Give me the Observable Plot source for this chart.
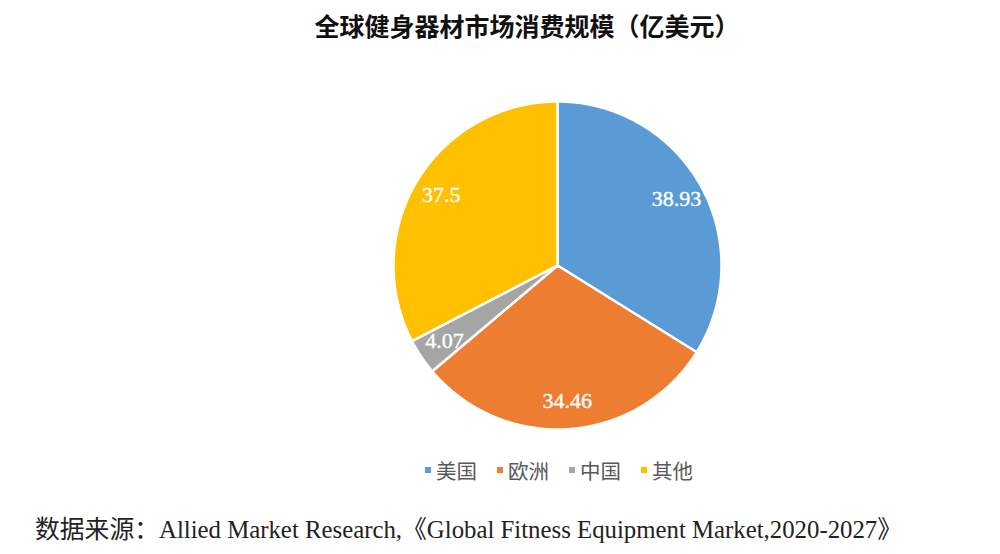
<!DOCTYPE html>
<html>
<head>
<meta charset="utf-8">
<script src="https://cdn.jsdelivr.net/npm/d3@7"></script>
<script src="https://cdn.jsdelivr.net/npm/@observablehq/plot@0.6"></script>
<style>
  html, body { margin: 0; padding: 0; background: #fff; }
  #wrap { position: relative; width: 1000px; height: 554px; overflow: hidden; }
  #title { position: absolute; left: 0; width: 1054px; top: 8px; text-align: center;
    font-family: "Noto Sans CJK SC", sans-serif; font-weight: 600; font-size: 25px; color: #111; line-height: 34px; }
  #chart { position: absolute; left: 0; top: 50px; }
  #legend { position: absolute; left: 0; width: 1118px; top: 456px; display: flex; justify-content: center; gap: 0;
    font-family: "Noto Sans CJK SC", sans-serif; font-size: 20.5px; color: #595959; line-height: 28px; }
  #legend .item { display: flex; align-items: center; margin: 0 10px; }
  #legend .sw { width: 6px; height: 6px; margin-right: 5px; }
  #caption { position: absolute; left: 35px; top: 513px; white-space: nowrap;
    font-family: "Liberation Serif", "Noto Sans CJK SC", serif; font-size: 24.8px; color: #222; line-height: 34px; }
</style>
</head>
<body>
<div id="wrap">
  <div id="title"></div>
  <div id="chart"></div>
  <div id="legend"></div>
  <div id="caption"></div>
</div>
<script>
const titleText = "全球健身器材市场消费规模（亿美元）";
const categories = ["美国", "欧洲", "中国", "其他"];
const values = [38.93, 34.46, 4.07, 37.5];
const labels = ["38.93", "34.46", "4.07", "37.5"];
const colors = ["#5B9BD5", "#ED7D31", "#A5A5A5", "#FFC000"];
const captionText = "数据来源：Allied Market Research,《Global Fitness Equipment Market,2020-2027》";

document.getElementById("title").textContent = titleText;
document.getElementById("caption").textContent = captionText;

const pie = d3.pie().sort(null).value(d => d.value)(categories.map((name, i) => ({name, value: values[i], label: labels[i]})));

// Build slice outlines (angles from 12 o'clock, clockwise)
const outline = [];
for (const a of pie) {
  const name = a.data.name;
  outline.push({name, x: 0, y: 0});
  const n = Math.max(8, Math.ceil((a.endAngle - a.startAngle) / 0.01));
  for (let k = 0; k <= n; k++) {
    const t = a.startAngle + (a.endAngle - a.startAngle) * k / n;
    outline.push({name, x: Math.sin(t), y: Math.cos(t)});
  }
}
const labelR = 0.83;
const labelPts = pie.map(a => {
  const m = (a.startAngle + a.endAngle) / 2;
  return {label: a.data.label, x: labelR * Math.sin(m), y: labelR * Math.cos(m)};
});

const plot = Plot.plot({
  width: 1000,
  height: 400,
  marginLeft: 393,
  marginRight: 279,
  marginTop: 51,
  marginBottom: 21,
  x: {domain: [-1, 1], axis: null},
  y: {domain: [-1, 1], axis: null},
  color: {domain: categories, range: colors},
  marks: [
    Plot.line(outline, {x: "x", y: "y", z: "name", fill: "name", stroke: "white", strokeWidth: 2.5, curve: "linear-closed", strokeLinejoin: "round"}),
    Plot.text(labelPts, {x: "x", y: "y", text: "label", fill: "white", fontSize: 22, fontFamily: "Liberation Serif, serif", stroke: "white", strokeWidth: 0.4})
  ]
});
document.getElementById("chart").appendChild(plot);

const legend = document.getElementById("legend");
categories.forEach((c, i) => {
  const item = document.createElement("span");
  item.className = "item";
  const sw = document.createElement("span");
  sw.className = "sw";
  sw.style.background = colors[i];
  const tx = document.createElement("span");
  tx.textContent = c;
  item.appendChild(sw); item.appendChild(tx);
  legend.appendChild(item);
});
</script>
</body>
</html>
